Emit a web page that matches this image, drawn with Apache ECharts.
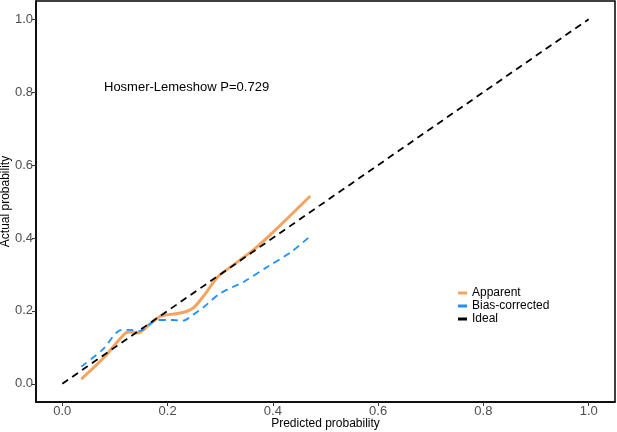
<!DOCTYPE html>
<html>
<head>
<meta charset="utf-8">
<script src="https://cdn.jsdelivr.net/npm/echarts@6/dist/echarts.min.js"></script>
<style>
  html, body { margin: 0; padding: 0; background: #fff; }
  #chart { width: 617px; height: 432px; }
</style>
</head>
<body>
<div id="chart"></div>
<script>
// calibration curves
const apparentX = [0.036, 0.081, 0.120, 0.131, 0.143, 0.165, 0.188, 0.225, 0.248, 0.270, 0.296, 0.330, 0.367, 0.405, 0.471];
const apparentY = [0.013, 0.075, 0.139, 0.142, 0.139, 0.162, 0.186, 0.194, 0.207, 0.244, 0.294, 0.331, 0.372, 0.422, 0.515];
const biasX = [0.036, 0.076, 0.113, 0.128, 0.147, 0.180, 0.210, 0.229, 0.248, 0.270, 0.300, 0.345, 0.390, 0.435, 0.471];
const biasY = [0.047, 0.093, 0.148, 0.148, 0.145, 0.175, 0.175, 0.173, 0.189, 0.212, 0.248, 0.280, 0.321, 0.362, 0.405];
const idealX = [0, 1];
const idealY = [0, 1];
const tickValues = [0, 0.2, 0.4, 0.6, 0.8, 1.0];
const hlText = 'Hosmer-Lemeshow P=0.729';

const pairs = (xs, ys) => xs.map((x, i) => [x, ys[i]]);
const font = 'Liberation Sans, Arial, sans-serif';

const axisCommon = {
  type: 'value',
  min: -0.05,
  max: 1.05,
  splitLine: { show: false },
  axisLine: { show: true, onZero: false, lineStyle: { color: '#000', width: 1.5 } },
  axisTick: { show: true, length: 4, customValues: tickValues, lineStyle: { color: '#333' } },
  axisLabel: {
    customValues: tickValues,
    color: '#4d4d4d',
    fontSize: 13,
    fontFamily: font,
    formatter: v => v.toFixed(1)
  },
  nameLocation: 'middle',
  nameMoveOverlap: false,
  nameTextStyle: { color: '#000', fontSize: 12, fontFamily: font }
};

const chart = echarts.init(document.getElementById('chart'));
chart.setOption({
  animation: false,
  grid: {
    left: 36, right: 2, top: 1, bottom: 30,
    outerBoundsMode: 'none',
    containLabel: false,
    show: true, borderColor: '#000', borderWidth: 1.5
  },
  xAxis: { ...axisCommon, name: 'Predicted probability', nameGap: 16,
    axisLabel: { ...axisCommon.axisLabel, margin: 3 } },
  yAxis: { ...axisCommon, name: 'Actual probability', nameGap: 24,
    axisLabel: { ...axisCommon.axisLabel, margin: 3 } },
  legend: {
    orient: 'vertical',
    left: 453,
    top: 282,
    itemGap: 1,
    itemWidth: 9,
    itemHeight: 3,
    icon: 'rect',
    textStyle: { color: '#000', fontSize: 12, fontFamily: font },
    data: ['Apparent', 'Bias-corrected', 'Ideal']
  },
  graphic: [{
    type: 'text',
    left: 104,
    top: 81,
    style: { text: hlText, fill: '#000', fontSize: 13, fontFamily: font }
  }],
  series: [
    {
      name: 'Ideal', type: 'line', showSymbol: false,
      data: pairs(idealX, idealY),
      itemStyle: { color: '#000' },
      lineStyle: { color: '#000', width: 1.8, type: [7, 5] },
      z: 3
    },
    {
      name: 'Bias-corrected', type: 'line', showSymbol: false, smooth: 0.3,
      data: pairs(biasX, biasY),
      itemStyle: { color: '#1e90ff' },
      lineStyle: { color: '#1e90ff', width: 1.8, type: [7, 5] },
      z: 2
    },
    {
      name: 'Apparent', type: 'line', showSymbol: false, smooth: 0.3,
      data: pairs(apparentX, apparentY),
      itemStyle: { color: '#f4a460' },
      lineStyle: { color: '#f4a460', width: 3 },
      z: 1
    }
  ]
});
</script>
</body>
</html>
